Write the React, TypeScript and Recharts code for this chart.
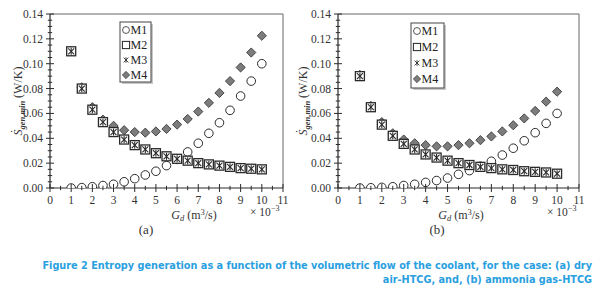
import React from 'react';
import { ScatterChart, Scatter, XAxis, YAxis, ReferenceLine } from 'recharts';

const gd = [1, 1.5, 2, 2.5, 3, 3.5, 4, 4.5, 5, 5.5, 6, 6.5, 7, 7.5, 8, 8.5, 9, 9.5, 10];

const aM1 = [0.0, 0.0003, 0.001, 0.002, 0.003, 0.005, 0.0075, 0.0105, 0.0135, 0.018, 0.023, 0.029, 0.036, 0.044, 0.0525, 0.0625, 0.074, 0.086, 0.1];
const aM2 = [0.11, 0.08, 0.063, 0.053, 0.045, 0.039, 0.0345, 0.031, 0.028, 0.0255, 0.0235, 0.022, 0.02, 0.019, 0.018, 0.017, 0.016, 0.0155, 0.015];
const aM3 = [0.11, 0.08, 0.063, 0.053, 0.045, 0.039, 0.0345, 0.031, 0.028, 0.0255, 0.0235, 0.022, 0.02, 0.019, 0.018, 0.017, 0.016, 0.0155, 0.015];
const aM4 = [0.11, 0.081, 0.065, 0.055, 0.05, 0.0465, 0.045, 0.0445, 0.0455, 0.0475, 0.051, 0.0555, 0.0615, 0.0685, 0.0765, 0.086, 0.097, 0.109, 0.1225];

const bM1 = [0.0, 0.0002, 0.0005, 0.001, 0.002, 0.003, 0.0045, 0.006, 0.008, 0.011, 0.014, 0.0175, 0.0215, 0.0265, 0.032, 0.038, 0.0445, 0.052, 0.06];
const bM2 = [0.09, 0.065, 0.051, 0.042, 0.0355, 0.031, 0.027, 0.0245, 0.022, 0.02, 0.0185, 0.017, 0.016, 0.015, 0.0145, 0.0135, 0.013, 0.0125, 0.0115];
const bM3 = [0.09, 0.065, 0.051, 0.042, 0.0355, 0.031, 0.027, 0.0245, 0.022, 0.02, 0.0185, 0.017, 0.016, 0.015, 0.0145, 0.0135, 0.013, 0.0125, 0.0115];
const bM4 = [0.091, 0.066, 0.053, 0.044, 0.039, 0.036, 0.0345, 0.0335, 0.0335, 0.0345, 0.036, 0.0385, 0.0415, 0.0455, 0.0505, 0.056, 0.062, 0.0695, 0.0775];

const seriesNames = ['M1', 'M2', 'M3', 'M4'];
const xTicks = [0, 0.5, 1, 1.5, 2, 2.5, 3, 3.5, 4, 4.5, 5, 5.5, 6, 6.5, 7, 7.5, 8, 8.5, 9, 9.5, 10, 10.5, 11];
const yTicks = [0, 0.005, 0.01, 0.015, 0.02, 0.025, 0.03, 0.035, 0.04, 0.045, 0.05, 0.055, 0.06, 0.065, 0.07, 0.075, 0.08, 0.085, 0.09, 0.095, 0.1, 0.105, 0.11, 0.115, 0.12, 0.125, 0.13, 0.135, 0.14];

const captionLine1 = 'Figure 2 Entropy generation as a function of the volumetric flow of the coolant, for the case: (a) dry';
const captionLine2 = 'air-HTCG, and, (b) ammonia gas-HTCG';

const toPts = (ys: number[]) => gd.map((x, i) => ({ x, y: ys[i] }));

const INK = '#2a2a2a';
const SERIF = '"Liberation Serif", "DejaVu Serif", serif';
const CAPFONT = '"DejaVu Sans Condensed", "DejaVu Sans", sans-serif';

const CircleShape = (p: any) => <circle cx={p.cx} cy={p.cy} r={4.3} fill="#fff" stroke={INK} strokeWidth={1} />;
const SquareShape = (p: any) => <rect x={p.cx - 4.5} y={p.cy - 4.5} width={9} height={9} fill="#fff" stroke={INK} strokeWidth={1.3} />;
const StarShape = (p: any) => (
  <g stroke={INK} strokeWidth={1.1}>
    <line x1={p.cx - 3} y1={p.cy - 3} x2={p.cx + 3} y2={p.cy + 3} />
    <line x1={p.cx - 3} y1={p.cy + 3} x2={p.cx + 3} y2={p.cy - 3} />
    <line x1={p.cx} y1={p.cy - 3.5} x2={p.cx} y2={p.cy + 3.5} />
  </g>
);
const DiamondShape = (p: any) => (
  <polygon
    points={`${p.cx},${p.cy - 4.6} ${p.cx + 4.6},${p.cy} ${p.cx},${p.cy + 4.6} ${p.cx - 4.6},${p.cy}`}
    fill="#7c7c7c"
    stroke="#3a3a3a"
    strokeWidth={0.9}
  />
);

const XTick = (props: any) => {
  const { x, y, payload } = props;
  const v = payload.value;
  const major = Math.abs(v - Math.round(v)) < 1e-6;
  const h = major ? 4 : 2.2;
  return (
    <g>
      <line x1={x} x2={x} y1={y - h} y2={y + h} stroke={INK} strokeWidth={1} />
      {major && (
        <text x={x} y={y + 16} textAnchor="middle" fontFamily={SERIF} fontSize={11.5} fill="#333">
          {v}
        </text>
      )}
    </g>
  );
};

const YTick = (props: any) => {
  const { x, y, payload } = props;
  const v = payload.value;
  const k = Math.round(v * 1000);
  const major = k % 20 === 0;
  const h = major ? 4 : 2.2;
  return (
    <g>
      <line x1={x - h} x2={x + h} y1={y} y2={y} stroke={INK} strokeWidth={1} />
      {major && (
        <text x={x - 7} y={y + 4} textAnchor="end" fontFamily={SERIF} fontSize={11.5} fill="#333">
          {v.toFixed(2)}
        </text>
      )}
    </g>
  );
};

type PanelProps = { m1: number[]; m2: number[]; m3: number[]; m4: number[]; yw: number; right: number };

const Panel = ({ m1, m2, m3, m4, yw, right }: PanelProps) => (
  <ScatterChart width={300} height={240} margin={{ top: 14, right, left: 0, bottom: 0 }}>
    <XAxis
      type="number"
      dataKey="x"
      domain={[0, 11]}
      ticks={xTicks}
      interval={0}
      tick={<XTick />}
      tickLine={false}
      tickSize={0}
      tickMargin={0}
      axisLine={{ stroke: INK, strokeWidth: 1.2 }}
      height={52}
      allowDataOverflow
    />
    <YAxis
      type="number"
      dataKey="y"
      domain={[0, 0.14]}
      ticks={yTicks}
      interval={0}
      tick={<YTick />}
      tickLine={false}
      tickSize={0}
      tickMargin={0}
      axisLine={{ stroke: INK, strokeWidth: 1.2 }}
      width={yw}
      allowDataOverflow
    />
    <ReferenceLine y={0.14} stroke="#666" strokeWidth={1} />
    <ReferenceLine x={11} stroke="#666" strokeWidth={1} />
    <Scatter name={seriesNames[0]} data={toPts(m1)} shape={CircleShape} isAnimationActive={false} />
    <Scatter name={seriesNames[3]} data={toPts(m4)} shape={DiamondShape} isAnimationActive={false} />
    <Scatter name={seriesNames[1]} data={toPts(m2)} shape={SquareShape} isAnimationActive={false} />
    <Scatter name={seriesNames[2]} data={toPts(m3)} shape={StarShape} isAnimationActive={false} />
  </ScatterChart>
);

const LegendBox = ({ x, y, w, h, step }: { x: number; y: number; w: number; h: number; step: number }) => {
  const shapes = [CircleShape, SquareShape, StarShape, DiamondShape];
  return (
    <g>
      <rect x={x + 2} y={y + 2} width={w} height={h} fill="#c8c8c8" />
      <rect x={x} y={y} width={w} height={h} fill="#fff" stroke="#444" strokeWidth={1} />
      {seriesNames.map((n, i) => {
        const cy = y + 8 + i * step;
        const S = shapes[i];
        const scale = 0.8;
        return (
          <g key={n}>
            <g transform={`translate(${x + 6},${cy}) scale(${scale})`}>
              <S cx={0} cy={0} />
            </g>
            <text x={x + 10.5} y={cy + 4} fontFamily={SERIF} fontSize={12} fill="#222">
              {n}
            </text>
          </g>
        );
      })}
    </g>
  );
};

const YLabel = ({ cx, cy }: { cx: number; cy: number }) => (
  <text transform={`translate(${cx},${cy}) rotate(-90)`} textAnchor="middle" fontFamily={SERIF} fontSize={12} fill="#333">
    <tspan fontStyle="italic">{'\u1E60'}</tspan>
    <tspan fontStyle="italic" fontSize={8.5} fontWeight="bold" dy={3}>gen,min</tspan>
    <tspan dy={-3}>{' (W/K)'}</tspan>
  </text>
);

const XLabel = ({ cx, y }: { cx: number; y: number }) => (
  <text x={cx} y={y} textAnchor="middle" fontFamily={SERIF} fontSize={12} fill="#333">
    <tspan fontStyle="italic">G</tspan>
    <tspan fontStyle="italic" fontSize={8.5} dy={2}>d</tspan>
    <tspan dy={-2}>{' (m'}</tspan>
    <tspan fontSize={8} dy={-4}>3</tspan>
    <tspan dy={4}>{'/s)'}</tspan>
  </text>
);

const Exp = ({ x, y }: { x: number; y: number }) => (
  <text x={x} y={y} fontFamily={SERIF} fontSize={11.5} fill="#333">
    <tspan>{'\u00D7 10'}</tspan>
    <tspan fontSize={8} dy={-5}>{'\u22123'}</tspan>
  </text>
);

export default function App() {
  return (
    <div style={{ position: 'absolute', left: 0, top: 0, width: 599, height: 292, background: '#fff', overflow: 'hidden' }}>
      <div style={{ position: 'absolute', left: 0, top: 0 }}>
        <Panel m1={aM1} m2={aM2} m3={aM3} m4={aM4} yw={50} right={17} />
      </div>
      <div style={{ position: 'absolute', left: 290, top: 0 }}>
        <Panel m1={bM1} m2={bM2} m3={bM3} m4={bM4} yw={48} right={11} />
      </div>
      <svg width={599} height={292} style={{ position: 'absolute', left: 0, top: 0, pointerEvents: 'none' }}>
        <LegendBox x={120} y={22} w={31} h={60} step={15} />
        <LegendBox x={411} y={23} w={33} h={65} step={16} />
        <YLabel cx={22} cy={101} />
        <YLabel cx={307} cy={101} />
        <XLabel cx={194} y={219} />
        <XLabel cx={461} y={219} />
        <Exp x={250} y={216} />
        <Exp x={547} y={216} />
        <text x={146} y={234} textAnchor="middle" fontFamily={SERIF} fontSize={13} fill="#333">(a)</text>
        <text x={437} y={234} textAnchor="middle" fontFamily={SERIF} fontSize={13} fill="#333">(b)</text>
        <text x={592} y={269} textAnchor="end" fontFamily={CAPFONT} fontWeight="bold" fontSize={10.8} fill="#2aa0e0">
          {captionLine1}
        </text>
        <text x={592} y={283} textAnchor="end" fontFamily={CAPFONT} fontWeight="bold" fontSize={10.8} fill="#2aa0e0">
          {captionLine2}
        </text>
      </svg>
    </div>
  );
}
